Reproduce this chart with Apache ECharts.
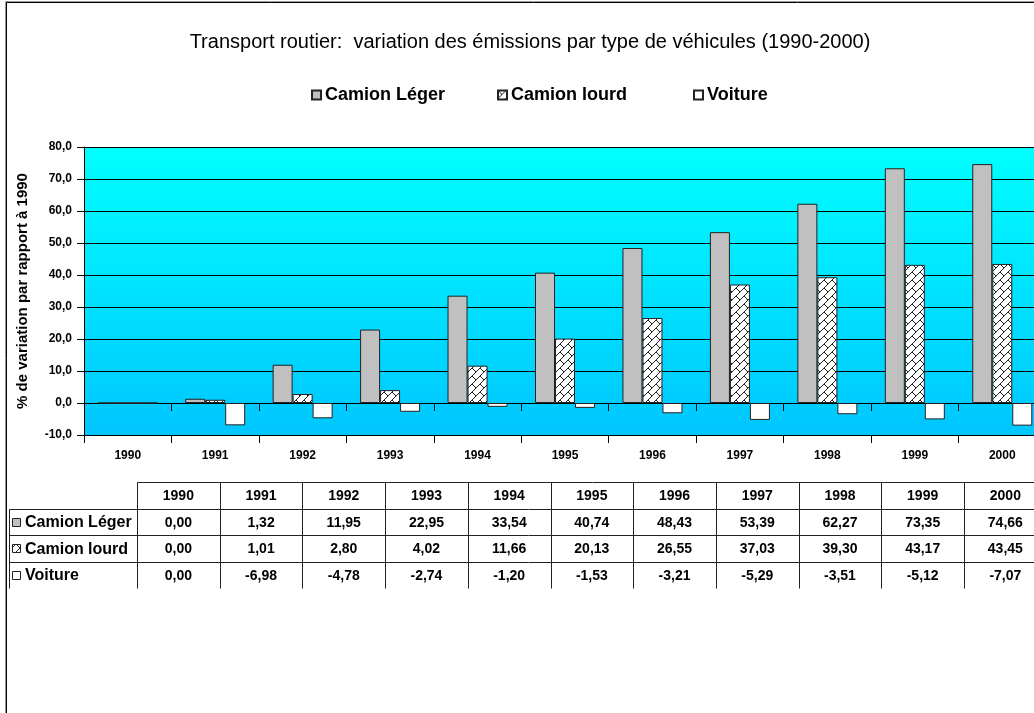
<!DOCTYPE html>
<html>
<head>
<meta charset="utf-8">
<script src="https://cdn.jsdelivr.net/npm/echarts@6/dist/echarts.min.js"></script>
<style>
html,body{margin:0;padding:0;overflow:hidden;background:#fff;}
#chart{width:1060px;height:713px;}
</style>
</head>
<body>
<div id="chart"></div>
<script>
const categories = ['1990','1991','1992','1993','1994','1995','1996','1997','1998','1999','2000'];
const seriesNames = ['Camion Léger','Camion lourd','Voiture'];
const camionLeger = [0.00, 1.32, 11.95, 22.95, 33.54, 40.74, 48.43, 53.39, 62.27, 73.35, 74.66];
const camionLourd = [0.00, 1.01, 2.80, 4.02, 11.66, 20.13, 26.55, 37.03, 39.30, 43.17, 43.45];
const voiture = [0.00, -6.98, -4.78, -2.74, -1.20, -1.53, -3.21, -5.29, -3.51, -5.12, -7.07];
const titleText = 'Transport routier:  variation des émissions par type de véhicules (1990-2000)';
const yAxisName = '% de variation par rapport à 1990';

const FONT = '"Liberation Sans", Arial, sans-serif';

// hatch pattern
function makeHatch() {
  const c = document.createElement('canvas');
  c.width = 8; c.height = 8;
  const ctx = c.getContext('2d');
  ctx.fillStyle = '#fff';
  ctx.fillRect(0, 0, 8, 8);
  ctx.strokeStyle = '#222';
  ctx.lineWidth = 1;
  ctx.beginPath();
  ctx.moveTo(0, 8); ctx.lineTo(8, 0);
  ctx.moveTo(-1, 1); ctx.lineTo(1, -1);
  ctx.moveTo(7, 9); ctx.lineTo(9, 7);
  ctx.moveTo(0, 0); ctx.lineTo(4, 4);
  ctx.stroke();
  return c;
}
const hatch = { image: makeHatch(), repeat: 'repeat' };
const fills = ['#C0C0C0', hatch, '#FFFFFF'];
const rows = [camionLeger, camionLourd, voiture];

function fmt(v) { return v.toFixed(2).replace('.', ','); }

// table built from the arrays
function buildTable() {
  const els = [];
  const labelLeft = 9, tableLeft = 137, colW = 82.7, top = 482, rowH = 26.5;
  const tableRight = tableLeft + colW * categories.length;
  const stroke = { stroke: '#222', lineWidth: 1 };
  const px = v => Math.round(v) + 0.5;
  function line(x1, y1, x2, y2) {
    els.push({ type: 'line', silent: true, shape: { x1: px(x1), y1: px(y1), x2: px(x2), y2: px(y2) }, style: stroke });
  }
  function text(t, x, y, align, size) {
    els.push({ type: 'text', silent: true, x: x, y: y,
      style: { text: t, fill: '#000', font: 'bold ' + size + 'px ' + FONT,
               textAlign: align, textVerticalAlign: 'middle', align: align, verticalAlign: 'middle' } });
  }
  line(tableLeft, top, tableRight, top);
  for (let r = 1; r <= rows.length; r++) line(labelLeft, top + r * rowH, tableRight, top + r * rowH);
  line(labelLeft, top + rowH, labelLeft, top + rowH * (rows.length + 1));
  for (let c = 0; c <= categories.length; c++) {
    const x = tableLeft + c * colW;
    line(x, top, x, top + rowH * (rows.length + 1));
  }
  categories.forEach((cat, c) => text(cat, tableLeft + c * colW + colW / 2, top + rowH / 2 + 1, 'center', 14));
  rows.forEach((vals, r) => {
    const cy = top + rowH * (r + 1) + rowH / 2;
    els.push({ type: 'rect', silent: true, shape: { x: 12.5, y: Math.round(cy - 4) + 0.5, width: 8, height: 8 },
      style: { fill: fills[r], stroke: '#222', lineWidth: 1 } });
    text(seriesNames[r], 25, cy + 1, 'left', 16);
    vals.forEach((v, c) => text(fmt(v), tableLeft + c * colW + colW / 2, cy + 1, 'center', 14));
  });
  // outer frame
  els.push({ type: 'rect', silent: true, shape: { x: 6.5, y: 2.5, width: 3000, height: 3000 },
    style: { fill: 'none', stroke: '#000', lineWidth: 1 } });
  els.push({ type: 'rect', silent: true, shape: { x: 5.5, y: 1.5, width: 3000, height: 3000 },
    style: { fill: 'none', stroke: '#999', lineWidth: 1 } });
  return els;
}

const chart = echarts.init(document.getElementById('chart'), null, { renderer: 'canvas' });
const barStyle = (fill) => ({ color: fill, borderColor: '#222', borderWidth: 1 });
const legendLefts = [311, 497, 693];
const legends = seriesNames.map((n, i) => ({
  data: [n],
  left: legendLefts[i],
  top: 86,
  padding: 0,
  icon: 'rect',
  itemWidth: 9,
  itemHeight: 9,
  selectedMode: false,
  textStyle: { fontFamily: FONT, fontSize: 18, fontWeight: 'bold', color: '#000', padding: [0, 0, 0, -1] }
}));

chart.setOption({
  animation: false,
  backgroundColor: '#fff',
  title: {
    text: titleText,
    left: 'center',
    top: 32,
    padding: 0,
    textStyle: { fontFamily: FONT, fontSize: 20, fontWeight: 'normal', color: '#000' }
  },
  legend: legends,
  grid: {
    left: 84, top: 147, right: 14, height: 288,
    show: true,
    borderWidth: 0,
    backgroundColor: new echarts.graphic.LinearGradient(0, 0, 0, 1, [
      { offset: 0, color: '#00FFFF' },
      { offset: 1, color: '#00C6FF' }
    ])
  },
  xAxis: [
    {
      type: 'category', data: categories, position: 'bottom',
      axisLine: { onZero: true, lineStyle: { color: '#000', width: 1 } },
      axisTick: { show: true, length: 8, lineStyle: { color: '#000' } },
      axisLabel: { show: false },
      splitLine: { show: false }
    },
    {
      type: 'category', data: categories, position: 'bottom',
      axisLine: { onZero: false, lineStyle: { color: '#000', width: 1 } },
      axisTick: { show: true, length: 8, lineStyle: { color: '#000' } },
      axisLabel: { show: true, margin: 15, fontFamily: FONT, fontSize: 12, fontWeight: 'bold', color: '#000' },
      splitLine: { show: false }
    }
  ],
  yAxis: {
    type: 'value', min: -10, max: 80, interval: 10,
    name: yAxisName, nameLocation: 'middle', nameGap: 54,
    nameTextStyle: { fontFamily: FONT, fontSize: 15, fontWeight: 'bold', color: '#000' },
    axisLine: { show: true, lineStyle: { color: '#000', width: 1 } },
    axisTick: { show: true, length: 7, lineStyle: { color: '#000' } },
    axisLabel: { margin: 12, fontFamily: FONT, fontSize: 12, fontWeight: 'bold', color: '#000',
      formatter: v => v.toFixed(1).replace('.', ',') },
    splitLine: { show: true, lineStyle: { color: '#000', width: 1 } }
  },
  series: [
    { name: seriesNames[0], type: 'bar', xAxisIndex: 0, data: camionLeger, barWidth: 20, barGap: '0%', itemStyle: barStyle(fills[0]) },
    { name: seriesNames[1], type: 'bar', xAxisIndex: 0, data: camionLourd, barWidth: 20, barGap: '0%', itemStyle: barStyle(fills[1]) },
    { name: seriesNames[2], type: 'bar', xAxisIndex: 0, data: voiture, barWidth: 20, barGap: '0%', itemStyle: barStyle(fills[2]) }
  ],
  graphic: { elements: buildTable() }
});
</script>
</body>
</html>
